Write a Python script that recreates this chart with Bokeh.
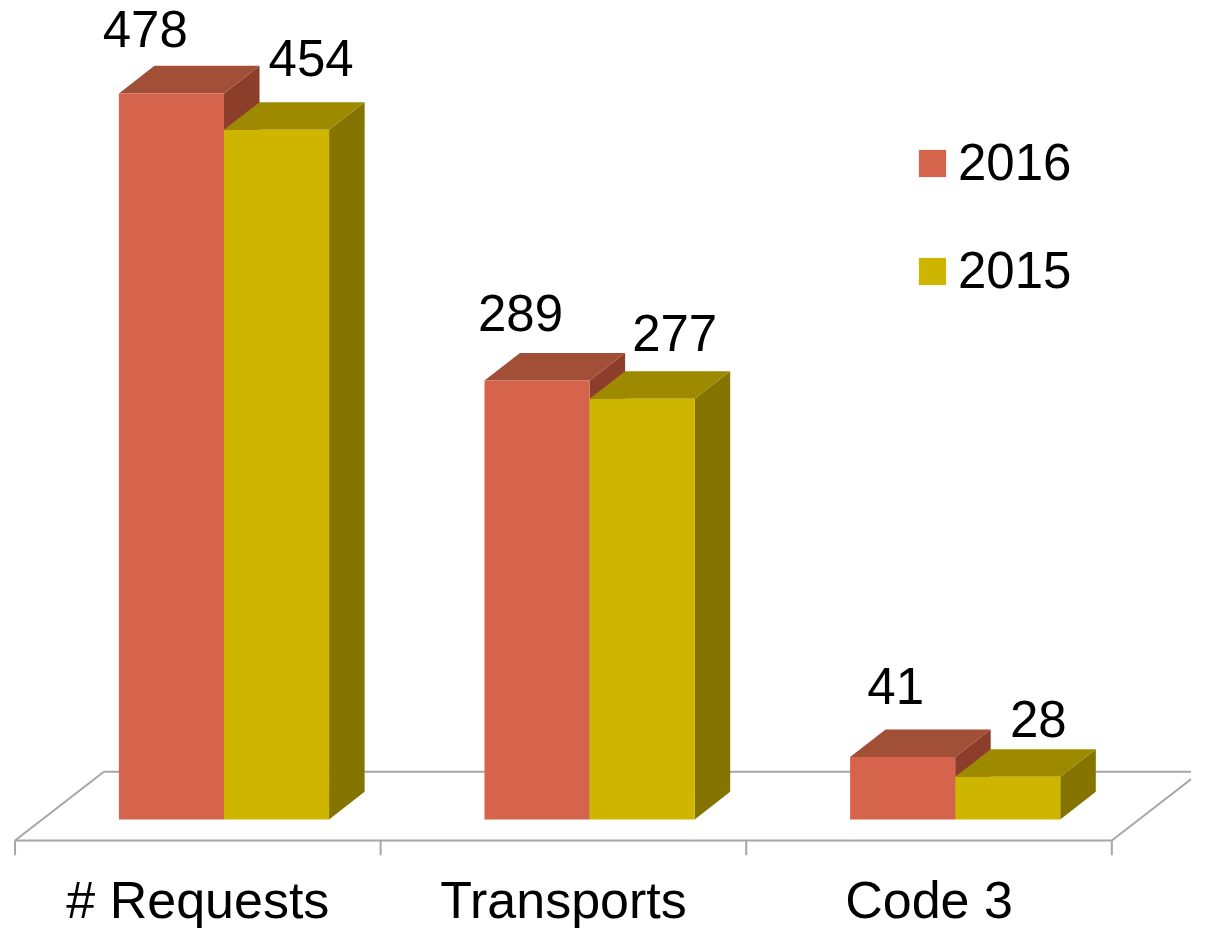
from bokeh.plotting import figure
from bokeh.models import ColumnDataSource, Legend, LegendItem, Range1d
from bokeh.core.properties import value
from bokeh.embed import file_html
from bokeh.resources import INLINE

# ---- data ----
categories = ["# Requests", "Transports", "Code 3"]
series = ["2016", "2015"]
values_2016 = [478, 289, 41]
values_2015 = [454, 277, 28]

# ---- styling / geometry constants ----
W, H = 1191, 928
SX, SY = W / 1207, H / 944        # scale from reference pixels to canvas pixels
PX_X = 370.5 * SX     # px per category
PX_Y = 1.545 * SY     # px per value unit
X0 = 200 * SX         # canvas px of first category centre (floor front)
Y0 = 833 * SY         # canvas px of value 0 (front face base)
TXT_DY = 18           # compensation for text baseline placement (px)

front_cols = {"2016": "#D6644C", "2015": "#CEB500"}
top_cols = {"2016": "#A24F38", "2015": "#9E8A00"}
side_cols = {"2016": "#8C3E2B", "2015": "#867400"}

FONT_NAME = "Liberation Sans"
FONT = value(FONT_NAME)

p = figure(width=W, height=H, output_backend="svg", toolbar_location=None,
           x_range=Range1d(-X0 / PX_X, (W - X0) / PX_X),
           y_range=Range1d(-(H - Y0) / PX_Y, Y0 / PX_Y),
           min_border=0, outline_line_color=None)
p.axis.visible = False
p.grid.visible = False
p.background_fill_color = "white"
p.border_fill_color = "white"

bw = 106.5 / 370.5        # bar width (category units)
shift = 26.5 / 370.5      # pair offset from floor-front category centre
ddx = 36 / 370.5          # depth x
ddy = 28 / 1.545          # depth y (value units)
fdx = 90 / 370.5          # floor depth x
yf = -21.5 / 1.545        # floor front edge
yb = yf + 70 / 1.545      # floor back edge
n = len(categories)

# ---- floor ----
floor_col = "#A6A6A6"
p.patch([-0.5, n - 0.5, n - 0.5 + fdx, -0.5 + fdx], [yf, yf, yb, yb],
        fill_color="white", line_color=None)
p.multi_line(xs=[[-0.5 + fdx, n - 0.5 + fdx], [-0.5, -0.5 + fdx], [n - 0.5, n - 0.5 + fdx], [-0.5, n - 0.5]],
             ys=[[yb, yb], [yf, yb], [yf, yb], [yf, yf]],
             line_color=floor_col, line_width=2)
tick_x = [i - 0.5 for i in range(n + 1)]
p.segment(x0=tick_x, y0=[yf] * len(tick_x), x1=tick_x, y1=[yf - 15 / 1.545] * len(tick_x),
          line_color=floor_col, line_width=2)

# label placement (perspective nudges, reference px): x offset and gap above the top face
lab_dx = {"2016": lambda i: -26.5 + 9.75 * i, "2015": lambda i: 35 - 2 * i}
lab_gap = {"2016": lambda i: 19 + 3.5 * i, "2015": lambda i: 27 - 7 * i}

# ---- 3D bars ----
legend_items = []
label_x, label_y, label_t = [], [], []
for s, vals, off in [("2016", values_2016, -bw), ("2015", values_2015, 0.0)]:
    lefts = [i + shift + off for i in range(n)]
    rights = [l + bw for l in lefts]
    # side faces
    p.patches(xs=[[r, r + ddx, r + ddx, r] for r in rights],
              ys=[[0, ddy, v + ddy, v] for v in vals],
              fill_color=side_cols[s], line_color=None)
    # top faces
    p.patches(xs=[[l, r, r + ddx, l + ddx] for l, r in zip(lefts, rights)],
              ys=[[v, v, v + ddy, v + ddy] for v in vals],
              fill_color=top_cols[s], line_color=None)
    src = ColumnDataSource(dict(left=lefts, right=rights, top=vals, bottom=[0] * n))
    front = p.quad(left="left", right="right", top="top", bottom="bottom", source=src,
                   fill_color=front_cols[s], line_color=None)
    legend_items.append(LegendItem(label=s, renderers=[front]))
    for i, (l, v) in enumerate(zip(lefts, vals)):
        label_x.append(l + bw / 2 + lab_dx[s](i) / 370.5)
        label_y.append(v + ddy + lab_gap[s](i) / 1.545 + TXT_DY / PX_Y)
        label_t.append(str(v))

p.text(x=label_x, y=label_y, text=label_t, text_align="center", text_baseline="alphabetic",
       text_font=FONT, text_font_size="51px", text_color="black")

# category labels
p.text(x=list(range(n)), y=[-100 / 1.545 + TXT_DY / PX_Y] * n, text=categories, text_align="center",
       text_baseline="alphabetic", text_font=FONT, text_font_size="52px", text_color="black")

# ---- legend ----
legend = Legend(items=legend_items, location=(915, 628), orientation="vertical",
                glyph_width=34, glyph_height=34, label_standoff=9, spacing=49,
                padding=0, margin=0, border_line_color=None, background_fill_alpha=0,
                label_text_font=FONT_NAME, label_text_font_size="51px", label_text_color="black")
p.add_layout(legend)

open("out.html", "w").write(file_html(p, INLINE))
